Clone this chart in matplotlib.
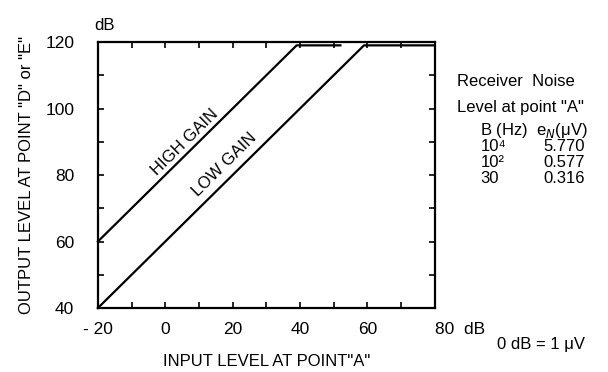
import matplotlib.pyplot as plt

# transfer curves (input dB -> output dB)
high_in = [-20, 39, 52]
high_out = [60, 119, 119]
low_in = [-20, 59, 80]
low_out = [40, 119, 119]

x_ticks = [-20, 0, 20, 40, 60, 80]
x_tick_labels = ["- 20", "0", "20", "40", "60", "80  dB"]
y_ticks = [40, 60, 80, 100, 120]

noise_bw = ["10\u2074", "10\u00b2", "30"]
noise_en = ["5.770", "0.577", "0.316"]

plt.rcParams['font.family'] = ['Liberation Sans', 'DejaVu Sans']

fig = plt.figure(figsize=(6.08, 3.72), dpi=100)
ax = fig.add_axes([0.161, 0.172, 0.554, 0.715])

ax.plot(high_in, high_out, color="black", linewidth=1.6, clip_on=False)
ax.plot(low_in, low_out, color="black", linewidth=1.6, clip_on=False)

ax.set_xlim(-20, 80)
ax.set_ylim(40, 120)
ax.set_xticks(x_ticks)
ax.set_xticklabels(x_tick_labels)
ax.set_xticks(range(-20, 81, 10), minor=True)
ax.set_yticks(y_ticks)
ax.set_yticks(range(40, 121, 10), minor=True)
ax.tick_params(which="both", direction="in", length=4, width=1.2,
               top=True, right=True, labelsize=12.5)
ax.tick_params(axis="x", pad=10)
ax.tick_params(axis="y", pad=17)
for s in ax.spines.values():
    s.set_linewidth(1.6)
# shift the "80 dB" label so the number sits on its tick
ax.get_xticklabels()[-1].set_horizontalalignment("left")
ax.get_xticklabels()[-1].set_x(77.3)

ax.text(5.8, 90, "HIGH GAIN", rotation=44.6, ha="center", va="center", fontsize=12)
ax.text(17.7, 83, "LOW GAIN", rotation=44.6, ha="center", va="center", fontsize=12)

ax.set_xlabel('INPUT LEVEL AT POINT"A"', fontsize=12, labelpad=12)
ax.set_ylabel('OUTPUT LEVEL AT POINT "D" or "E"', fontsize=12, labelpad=8)
fig.text(0.172, 0.932, "dB", fontsize=12, ha="center", va="center")

# noise table on the right
fig.text(0.752, 0.78, "Receiver  Noise", fontsize=12, va="center")
fig.text(0.752, 0.71, 'Level at point "A"', fontsize=12, va="center")
fig.text(0.79, 0.65, "B (Hz)  e$_N$(\u03bcV)", fontsize=12, va="center")
for i, (b, e) in enumerate(zip(noise_bw, noise_en)):
    y = 0.605 - i * 0.042
    fig.text(0.79, y, b, fontsize=12, va="center")
    fig.text(0.893, y, e, fontsize=12, va="center")
fig.text(0.817, 0.073, "0 dB = 1 \u03bcV", fontsize=12, va="center")

fig.savefig("out.png", dpi=100)
